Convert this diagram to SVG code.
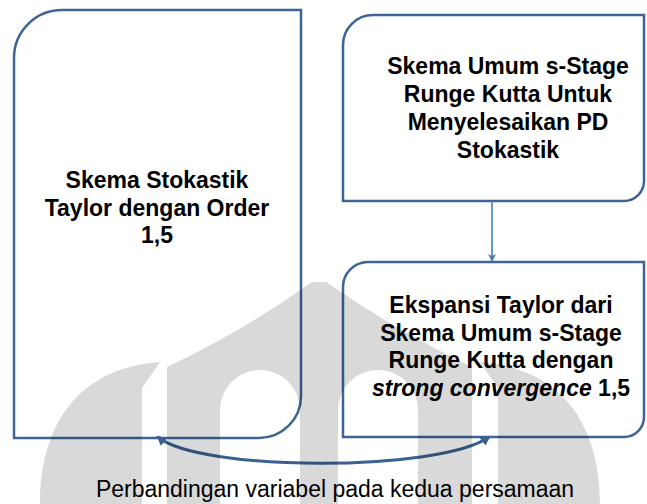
<svg xmlns="http://www.w3.org/2000/svg" width="647" height="504" viewBox="0 0 647 504">
<defs>
<style>
.box{fill:none;stroke:#3e6496;stroke-width:2.5;}
.t{font-family:"Liberation Sans",Arial,sans-serif;font-size:23px;font-weight:bold;fill:#000;text-anchor:middle;}
.lbl{font-family:"Liberation Sans",Arial,sans-serif;font-size:23px;fill:#000;text-anchor:middle;}
.wm{fill:#000;fill-opacity:0.15;fill-rule:evenodd;}
</style>
<marker id="ah" markerUnits="userSpaceOnUse" markerWidth="10" markerHeight="10" refX="7" refY="4" orient="auto">
<path d="M0,0 L8,4 L0,8 L2,4 Z" fill="#4a7ebb"/>
</marker>
<marker id="ch" markerUnits="userSpaceOnUse" markerWidth="14" markerHeight="14" refX="8" refY="5" orient="auto-start-reverse">
<path d="M0,0 L10,5 L0,10 Z" fill="#3b6192"/>
</marker>
</defs>
<rect width="647" height="504" fill="#fff"/>
<g id="node-left">
<path class="box" d="M14,58 A48,48 0 0 1 62,10 L301,10 L301,396 A42,42 0 0 1 259,438 L14,438 Z"/>
<text class="t" x="157" y="188">Skema Stokastik</text>
<text class="t" x="157" y="216">Taylor dengan Order</text>
<text class="t" x="157" y="243">1,5</text>
</g>
<g id="node-top-right">
<path class="box" d="M343,45 A30,30 0 0 1 373,15 L644,15 L644,181 A20,20 0 0 1 624,201 L343,201 Z"/>
<text class="t" x="508" y="74">Skema Umum s-Stage</text>
<text class="t" x="508" y="102">Runge Kutta Untuk</text>
<text class="t" x="508" y="130">Menyelesaikan PD</text>
<text class="t" x="508" y="158">Stokastik</text>
</g>
<g id="node-bottom-right">
<path class="box" d="M343,287 A25,25 0 0 1 368,262 L644,262 L644,417 A20,20 0 0 1 624,437 L343,437 Z"/>
<text class="t" x="501" y="313">Ekspansi Taylor dari</text>
<text class="t" x="501" y="341">Skema Umum s-Stage</text>
<text class="t" x="501" y="368">Runge Kutta dengan</text>
<text class="t" x="501" y="396"><tspan font-style="italic">strong convergence</tspan> 1,5</text>
</g>
<g id="connectors">
<line x1="492" y1="201" x2="492" y2="261" stroke="#4a7ebb" stroke-width="1.6" marker-end="url(#ah)"/>
<path d="M158,437 C200,472 440,472 489,437" fill="none" stroke="#3b6192" stroke-width="3" marker-start="url(#ch)" marker-end="url(#ch)"/>
</g>
<text class="lbl" x="335" y="497">Perbandingan variabel pada kedua persamaan</text>
<g id="watermark">
<path class="wm" d="M167,504 L167,367 Q245,330 312,282 L326,282 Q395,330 472,367 L472,504 Z M220,504 L220,410 A40,40 0 0 1 300,410 L300,504 Z M338,504 L338,410 A40,40 0 0 1 418,410 L418,504 Z"/>
<path class="wm" d="M40,504 C40,425 78,368 160,362 L142,388 L142,504 Z"/>
<path class="wm" d="M600,504 C600,425 562,368 480,362 L498,388 L498,504 Z"/>
</g>
</svg>
